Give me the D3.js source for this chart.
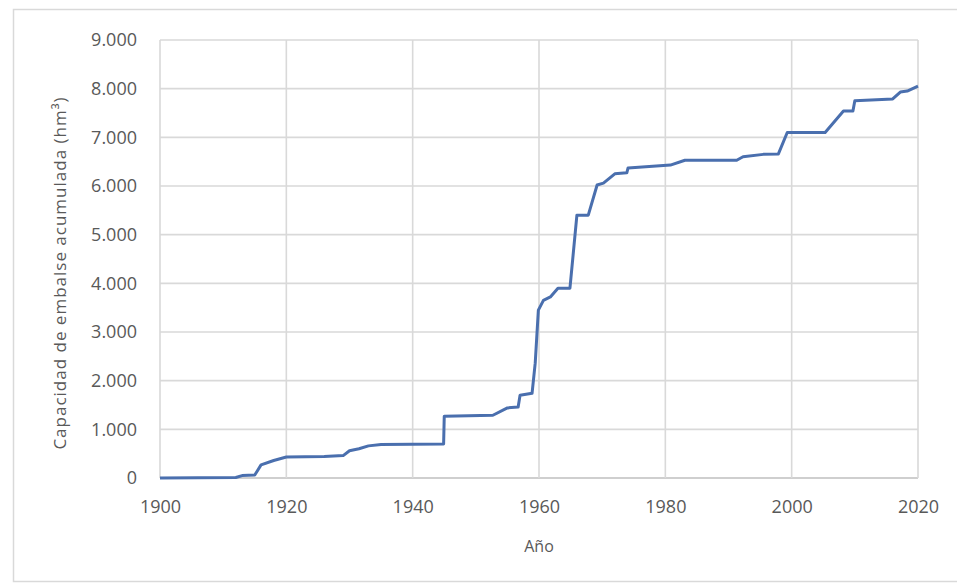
<!DOCTYPE html>
<html>
<head>
<meta charset="utf-8">
<script src="https://cdn.jsdelivr.net/npm/d3@7"></script>
<style>
    body { margin: 0; background: #fff; }
    text { font-family: "Open Sans", sans-serif; fill: #595959; }
</style>
</head>
<body>
<svg class="chart"></svg>
<script>
// years (x) and accumulated reservoir capacity in hm3 (y)
var years = [1900, 1912, 1913, 1915, 1916, 1918, 1920, 1926, 1929, 1930, 1931.5, 1933, 1935,
    1944.9, 1945, 1952.7, 1955, 1956.7, 1957, 1958.9, 1959.4, 1959.9, 1960.7, 1961.8, 1963,
    1964.9, 1966, 1967.8, 1969.2, 1970.2, 1972, 1973.9, 1974.1, 1980.8, 1983.1, 1991.3,
    1992.3, 1995.5, 1997.9, 1999.3, 2005.3, 2008.2, 2009.7, 2010, 2016, 2017.2, 2018.3, 2020];
var capacity = [0, 10, 50, 60, 270, 360, 430, 440, 460, 560, 600, 660, 690,
    700, 1270, 1290, 1440, 1460, 1700, 1740, 2360, 3450, 3650, 3720, 3900,
    3900, 5400, 5400, 6020, 6060, 6250, 6270, 6370, 6430, 6530, 6530,
    6600, 6650, 6660, 7100, 7100, 7540, 7540, 7750, 7790, 7930, 7950, 8050];
var xTicks = [1900, 1920, 1940, 1960, 1980, 2000, 2020];
var yTicks = [0, 1000, 2000, 3000, 4000, 5000, 6000, 7000, 8000, 9000];
var xTitle = "Año";
var yTitle = "Capacidad de embalse acumulada (hm³)";

var width = 957,
    height = 588;
var margin = {top: 40, right: 39, bottom: 110, left: 160};
var plotW = width - margin.left - margin.right,
    plotH = height - margin.top - margin.bottom;

var svg = d3.select(".chart")
    .attr("width", width)
    .attr("height", height);

// outer chart frame (right side runs off the picture)
svg.append("rect")
    .attr("x", 13.5)
    .attr("y", 9.5)
    .attr("width", 980)
    .attr("height", 572)
    .attr("fill", "none")
    .attr("stroke", "#d9d9d9")
    .attr("stroke-width", 1.5);

var g = svg.append("g")
    .attr("transform", "translate(" + margin.left + "," + margin.top + ")");

var x = d3.scaleLinear().domain([1900, 2020]).range([0, plotW]);
var y = d3.scaleLinear().domain([0, 9000]).range([plotH, 0]);

// gridlines
g.selectAll(".hgrid").data(yTicks).enter().append("line")
    .attr("class", "hgrid")
    .attr("x1", 0).attr("x2", plotW)
    .attr("y1", function(d) { return y(d); })
    .attr("y2", function(d) { return y(d); })
    .attr("stroke", function(d) { return d === 0 ? "#bfbfbf" : "#d9d9d9"; })
    .attr("stroke-width", 1.6);

g.selectAll(".vgrid").data(xTicks).enter().append("line")
    .attr("class", "vgrid")
    .attr("y1", 0).attr("y2", plotH)
    .attr("x1", function(d) { return x(d); })
    .attr("x2", function(d) { return x(d); })
    .attr("stroke", "#d9d9d9")
    .attr("stroke-width", 1.6);

// axes, Spanish number format with dot as thousands separator
var esFormat = d3.formatLocale({decimal: ",", thousands: ".", grouping: [3], currency: ["", "€"]}).format(",");

var yAxis = d3.axisLeft(y).tickValues(yTicks).tickSize(0).tickPadding(23).tickFormat(esFormat);
var xAxis = d3.axisBottom(x).tickValues(xTicks).tickSize(0).tickPadding(22).tickFormat(d3.format("d"));

g.append("g").call(yAxis)
    .call(function(a) { a.select(".domain").remove(); })
    .selectAll("text").style("font-size", "18px").attr("fill", "#595959");

g.append("g").attr("transform", "translate(0," + plotH + ")").call(xAxis)
    .call(function(a) { a.select(".domain").remove(); })
    .selectAll("text").style("font-size", "18px").attr("fill", "#595959");

// axis titles
svg.append("text")
    .attr("x", margin.left + x(1960))
    .attr("y", 552)
    .attr("text-anchor", "middle")
    .style("font-size", "16px")
    .text(xTitle);

svg.append("text")
    .attr("transform", "translate(66," + 273 + ") rotate(-90)")
    .attr("text-anchor", "middle")
    .style("font-size", "17px")
    .style("letter-spacing", "1px")
    .text(yTitle);

// the line
var pts = years.map(function(d, i) { return [d, capacity[i]]; });
var line = d3.line()
    .x(function(d) { return x(d[0]); })
    .y(function(d) { return y(d[1]); });

g.append("path")
    .datum(pts)
    .attr("d", line)
    .attr("fill", "none")
    .attr("stroke", "#4a6fae")
    .attr("stroke-width", 3)
    .attr("stroke-linejoin", "round");
</script>
</body>
</html>
